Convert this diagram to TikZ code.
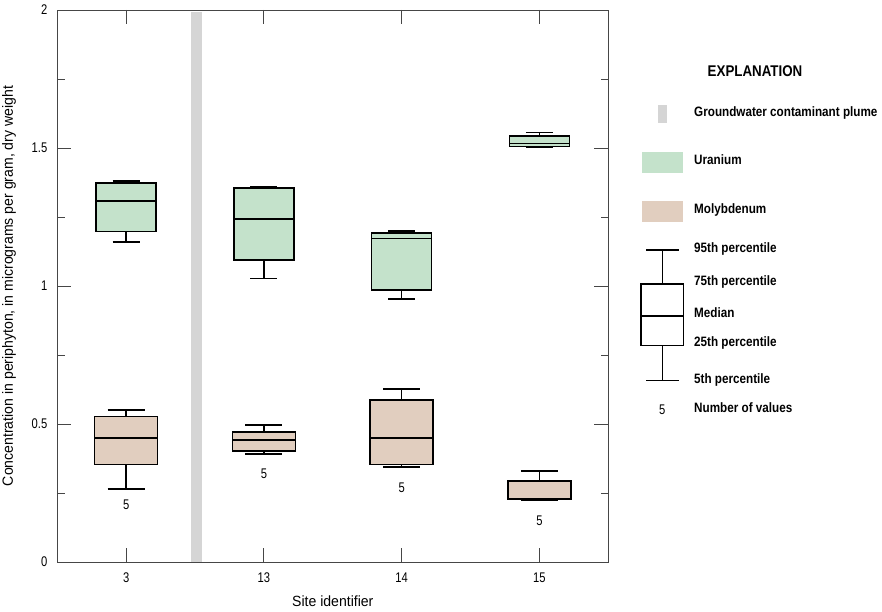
\documentclass[tikz,border=0pt]{standalone}
\usepackage{fontspec}
\setmainfont[FakeStretch=0.95]{Liberation Sans}
\newfontfamily\numfont[FakeStretch=0.8]{Liberation Sans}
\newfontfamily\legfont[FakeStretch=0.86]{Liberation Sans}

\definecolor{uran}{RGB}{196,226,203}
\definecolor{molyb}{RGB}{225,206,191}
\definecolor{plume}{RGB}{213,213,213}
\definecolor{axisgray}{RGB}{70,70,70}

\tikzset{
  boxline/.style={line width=1.5pt, black},
  axisline/.style={line width=0.9pt, axisgray},
  ticklab/.style={font=\fontsize{14}{14}\selectfont\numfont, inner sep=0pt},
  axlab/.style={font=\fontsize{14.8}{15}\selectfont, inner sep=0pt},
  legtext/.style={font=\fontsize{13.6}{14}\selectfont\legfont\bfseries, anchor=mid west, inner sep=0pt},
}

\begin{document}
\begin{tikzpicture}[x=1pt,y=1pt]
\useasboundingbox (0,0) rectangle (882,611);

% plot area, data units
\begin{scope}[shift={(57.3pt,49pt)}, x=137.75pt, y=276pt]

\fill[plume] (0.967,0) rectangle (1.047,1.994);

\draw[axisline] (0,0) rectangle (4,2);

\foreach \v in {0,0.5,1,1.5,2} {
  \draw[axisline] (0,\v) -- ++(14pt,0);
  \draw[axisline] (4,\v) -- ++(-14pt,0);
  \node[ticklab, anchor=east, xshift=-9.8pt] at (0,\v) {\v};
}
\foreach \v in {0.25,0.75,1.25,1.75} {
  \draw[axisline] (0,\v) -- ++(7.7pt,0);
  \draw[axisline] (4,\v) -- ++(-7.7pt,0);
}
\foreach \k/\s in {0.5/3,1.5/13,2.5/14,3.5/15} {
  \draw[axisline] (\k,2) -- ++(0,-14pt);
  \draw[axisline] (\k,0) -- ++(0,14pt);
  \node[ticklab, yshift=-16pt] at (\k,0) {\s};
}

% uranium
\foreach \k/\lo/\qa/\md/\qb/\hi in {0.5/1.159/1.198/1.308/1.373/1.380,
    1.5/1.028/1.094/1.242/1.355/1.360, 2.5/0.953/0.986/1.173/1.192/1.200,
    3.5/1.502/1.505/1.517/1.543/1.557} {
  \draw[boxline] (\k,\qb) -- (\k,\hi) (\k,\qa) -- (\k,\lo);
  \draw[boxline] (\k-0.098,\hi) -- (\k+0.098,\hi) (\k-0.098,\lo) -- (\k+0.098,\lo);
  \filldraw[boxline, fill=uran] (\k-0.2178,\qa) rectangle (\k+0.2178,\qb);
  \draw[boxline] (\k-0.2178,\md) -- (\k+0.2178,\md);
}

% molybdenum
\foreach \k/\lo/\qa/\md/\qb/\hi/\n in {0.5/0.264/0.353/0.450/0.528/0.551/0.2065,
    1.5/0.391/0.403/0.442/0.471/0.497/0.320, 2.5/0.345/0.353/0.449/0.587/0.627/0.2707,
    3.5/0.222/0.226/0.228/0.293/0.330/0.1496} {
  \draw[boxline] (\k,\qb) -- (\k,\hi) (\k,\qa) -- (\k,\lo);
  \draw[boxline] (\k-0.134,\hi) -- (\k+0.134,\hi) (\k-0.134,\lo) -- (\k+0.134,\lo);
  \filldraw[boxline, fill=molyb] (\k-0.2287,\qa) rectangle (\k+0.2287,\qb);
  \draw[boxline] (\k-0.2287,\md) -- (\k+0.2287,\md);
  \node[ticklab] at (\k,\n) {5};
}
\end{scope}

\node[axlab] (xlab) at (332.8,10) {Site identifier};
\node[axlab, rotate=90] (ylab) at (9,325) {Concentration in periphyton, in micrograms per gram, dry weight};

% explanation
\node[font=\fontsize{15.5}{16}\selectfont\legfont\bfseries, inner sep=0pt] (expl) at (755,540.3) {EXPLANATION};

\fill[plume] (658.3,487.7) rectangle (666.7,506);
\node[legtext] (lplume) at (694,497) {Groundwater contaminant plume};
\fill[uran] (641.7,438.3) rectangle (683.3,459.3);
\node[legtext] (luran) at (694,448.8) {Uranium};
\fill[molyb] (641.7,389.3) rectangle (683.3,410.3);
\node[legtext] (lmolyb) at (694,399.8) {Molybdenum};

\draw[line width=1.1pt] (662.3,327) -- (662.3,361) (646,361) -- (679,361)
  (662.3,265.3) -- (662.3,230.3) (646,230.3) -- (679,230.3);
\draw[line width=1.1pt] (641,265.3) rectangle (683.3,327) (641,295) -- (683.3,295);
\node[legtext] at (694,361) {95th percentile};
\node[legtext] at (694,327.7) {75th percentile};
\node[legtext] at (694,296) {Median};
\node[legtext] at (694,267) {25th percentile};
\node[legtext] at (694,230.3) {5th percentile};
\node[ticklab] at (662.3,201) {5};
\node[legtext] at (694,201) {Number of values};

\end{tikzpicture}
\end{document}
